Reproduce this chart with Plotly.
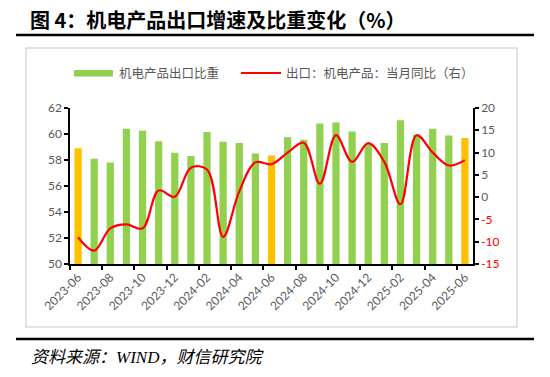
import plotly.graph_objects as go

months = ['2023-06', '2023-07', '2023-08', '2023-09', '2023-10', '2023-11', '2023-12',
          '2024-01', '2024-02', '2024-03', '2024-04', '2024-05', '2024-06', '2024-07',
          '2024-08', '2024-09', '2024-10', '2024-11', '2024-12', '2025-01', '2025-02',
          '2025-03', '2025-04', '2025-05', '2025-06']
share = [58.9, 58.1, 57.8, 60.4, 60.25, 59.45, 58.55, 58.3, 60.15, 59.4, 59.3, 58.5, 58.35,
         59.75, 59.55, 60.8, 60.88, 60.2, 59.25, 59.3, 61.05, 59.95, 60.4, 59.88, 59.7]
yoy = [-9.0, -12.0, -7.0, -6.1, -7.0, 1.5, 0.1, 6.6, 6.2, -8.9, 1.3, 7.8, 7.4, 10.0,
       12.2, 3.0, 13.9, 7.9, 12.1, 7.9, -1.6, 13.9, 10.0, 7.1, 8.3]
left_ticks = [50, 52, 54, 56, 58, 60, 62]
right_ticks = [-15, -10, -5, 0, 5, 10, 15, 20]

title_text = '图 4：机电产品出口增速及比重变化（%）'
source_text = '资料来源：WIND，财信研究院'
bar_name = '机电产品出口比重'
line_name = '出口：机电产品：当月同比（右）'

GREEN = '#92D050'
ORANGE = '#FFC000'
RED = '#FF0000'
GRAY = '#595959'

W, H = 550, 377
L, R, T, B = 70, 473, 108, 264


def px(x):
    return (x - L) / (R - L)


def py(y):
    return (B - y) / (B - T)


bar_colors = [ORANGE if m.endswith('-06') else GREEN for m in months]
right_text = [(f'<span style="color:{RED}">{v}</span>' if v < 0 else str(v)) for v in right_ticks]

fig = go.Figure()
fig.add_trace(go.Bar(x=months, y=share, marker=dict(color=bar_colors, line=dict(width=0)),
                     width=0.45, name=bar_name, showlegend=False, yaxis='y'))
fig.add_trace(go.Scatter(x=months, y=yoy, mode='lines', name=line_name, showlegend=False,
                         line=dict(color=RED, width=2.2, shape='spline', smoothing=1.0),
                         yaxis='y2'))

tickfont = dict(family='Lato, Liberation Sans, sans-serif', size=12, color=GRAY)

fig.update_layout(
    width=W, height=H,
    margin=dict(l=L, r=W - R, t=T, b=H - B, pad=0),
    paper_bgcolor='white', plot_bgcolor='white',
    bargap=0.55,
    xaxis=dict(type='category', tickangle=-45, dtick=2, tickson='boundaries',
               ticks='outside', ticklen=4, tickwidth=1.5, tickcolor='black',
               showline=True, linecolor='black', linewidth=1.5, showgrid=False,
               tickfont=dict(family='Lato, Liberation Sans, sans-serif', size=12, color=GRAY),
               range=[-0.5, len(months) - 0.5]),
    yaxis=dict(range=[50, 62], tickvals=left_ticks, ticks='outside', ticklen=4,
               tickwidth=1.5, tickcolor='black', showline=True, linecolor='black',
               linewidth=1.5, showgrid=False, zeroline=False, tickfont=tickfont),
    yaxis2=dict(range=[-15, 20], tickvals=right_ticks, ticktext=right_text,
                overlaying='y', side='right', ticks='outside', ticklen=4, tickwidth=1.5,
                tickcolor='black', showline=True, linecolor='black', linewidth=1.5,
                showgrid=False, zeroline=False, tickfont=tickfont),
    font=dict(family='Noto Sans CJK SC, sans-serif'),
)

shapes = [
    dict(type='line', xref='paper', yref='paper', x0=px(16), x1=px(534), y0=py(35), y1=py(35),
         line=dict(color='black', width=2.5)),
    dict(type='rect', xref='paper', yref='paper', x0=px(26), x1=px(517), y0=py(48), y1=py(327),
         line=dict(color='#D9D9D9', width=1.5), layer='below'),
    dict(type='line', xref='paper', yref='paper', x0=px(16), x1=px(534), y0=py(339), y1=py(339),
         line=dict(color='black', width=2.5)),
    # legend symbols
    dict(type='rect', xref='paper', yref='paper', x0=px(74), x1=px(113), y0=py(70), y1=py(76.5),
         fillcolor=GREEN, line=dict(width=0)),
    dict(type='line', xref='paper', yref='paper', x0=px(241), x1=px(281), y0=py(73), y1=py(73),
         line=dict(color=RED, width=2)),
]

annotations = [
    dict(text=f'<b>{title_text}</b>', xref='paper', yref='paper', x=px(28), y=py(19),
         xanchor='left', yanchor='middle', showarrow=False,
         font=dict(family='Noto Sans CJK SC', size=20, color='black')),
    dict(text=f'<i>{source_text}</i>', xref='paper', yref='paper', x=px(29), y=py(357),
         xanchor='left', yanchor='middle', showarrow=False,
         font=dict(family='Liberation Serif, Noto Sans CJK SC', size=17, color='black')),
    dict(text=bar_name, xref='paper', yref='paper', x=px(117), y=py(73),
         xanchor='left', yanchor='middle', showarrow=False,
         font=dict(family='Noto Sans CJK SC', size=12.5, color=GRAY)),
    dict(text=line_name, xref='paper', yref='paper', x=px(284), y=py(73),
         xanchor='left', yanchor='middle', showarrow=False,
         font=dict(family='Noto Sans CJK SC', size=12.5, color=GRAY)),
]

fig.update_layout(shapes=shapes, annotations=annotations)

fig.write_html('out.html', config={'displayModeBar': False},
               post_script="document.body.style.margin='0';")
